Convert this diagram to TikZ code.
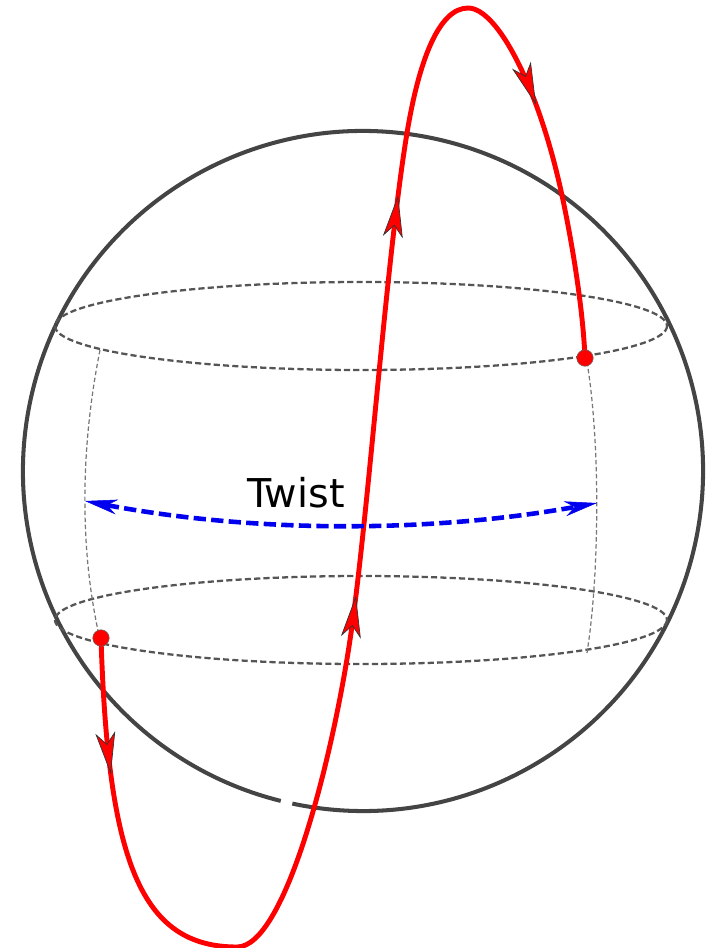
\documentclass[tikz,border=0pt]{standalone}
\usepackage{fontspec}
\newfontfamily\twistfont{DejaVu Sans}
\definecolor{SphereGray}{HTML}{444444}
\definecolor{GridGray}{HTML}{555555}
\definecolor{PathRed}{HTML}{FF0000}
\definecolor{TwistBlue}{HTML}{0000EE}
\usetikzlibrary{arrows.meta,decorations.markings}

\tikzset{
  redhead/.tip={Stealth[length=8.4mm,width=4mm,inset=2.3mm,color=black!80,fill=PathRed,line width=0.4pt]},
  bluehead/.tip={Stealth[length=6.5mm,width=3mm,inset=2mm,color=TwistBlue,fill=TwistBlue,line width=0.3pt]},
  sphere/.style={draw=SphereGray,line width=2.3pt},
  parallel/.style={draw=GridGray,line width=1.3pt,dash pattern=on 3.5pt off 1.8pt},
  meridian/.style={draw=GridGray!80,line width=0.7pt,dash pattern=on 2.5pt off 1.5pt},
  dot/.style={circle,fill=PathRed,draw=black!60,line width=0.3pt,inner sep=0pt,minimum size=3.3mm},
  twist/.style={draw=TwistBlue,line width=2.6pt,dash pattern=on 7pt off 3pt,bluehead-bluehead}
}

\begin{document}
\begin{tikzpicture}[x=0.02cm,y=-0.02cm]
  \useasboundingbox (0,0) rectangle (709,948);

  % sphere, broken at the bottom
  \draw[sphere] ([shift={(104:340)}]363,471) arc[start angle=104,end angle=462,radius=340];

  % two parallels and two meridian pieces
  \draw[parallel] (361,326) ellipse[x radius=306,y radius=44];
  \draw[parallel] (361,620) ellipse[x radius=306,y radius=44];
  \draw[meridian] (100,350) .. controls (80,450) and (80,550) .. (99,635);
  \draw[meridian] (587,362) .. controls (600,440) and (600,570) .. (587,653);

  % the red loop
  \coordinate (start) at (101,638);
  \coordinate (bottom) at (237,947);
  \coordinate (rise) at (350,640);
  \coordinate (upper) at (407,133);
  \coordinate (top) at (468,8);
  \coordinate (fall) at (563,200);
  \coordinate (finish) at (585,358);
  \draw[
    draw=PathRed,
    line width=2.8pt,
    postaction={decorate},
    decoration={markings,
      mark=at position 0.078 with {\arrow{redhead}},
      mark=at position 0.432 with {\arrow{redhead}},
      mark=at position 0.662 with {\arrow{redhead}},
      mark=at position 0.852 with {\arrow{redhead}}}
  ] (start) .. controls (108,860) and (140,947) .. (bottom)
    .. controls (285,947) and (332,760) .. (rise)
    .. controls (368,520) and (386,260) .. (upper)
    .. controls (419.6,56.8) and (440,8) .. (top)
    .. controls (498,8) and (540,90) .. (fall)
    .. controls (573,248) and (583,310) .. (finish);
  \node[dot] (startdot) at (start) {};
  \node[dot] (finishdot) at (finish) {};

  % twist
  \coordinate (twistL) at (85,501);
  \coordinate (twistR) at (597,503);
  \draw[twist] (twistL) .. controls (255,533) and (430,533) .. (twistR);
  \node[anchor=base,inner sep=0pt,font=\twistfont\fontsize{22.6}{27}\selectfont] (twist) at (296,507) {Twist};
\end{tikzpicture}
\end{document}
